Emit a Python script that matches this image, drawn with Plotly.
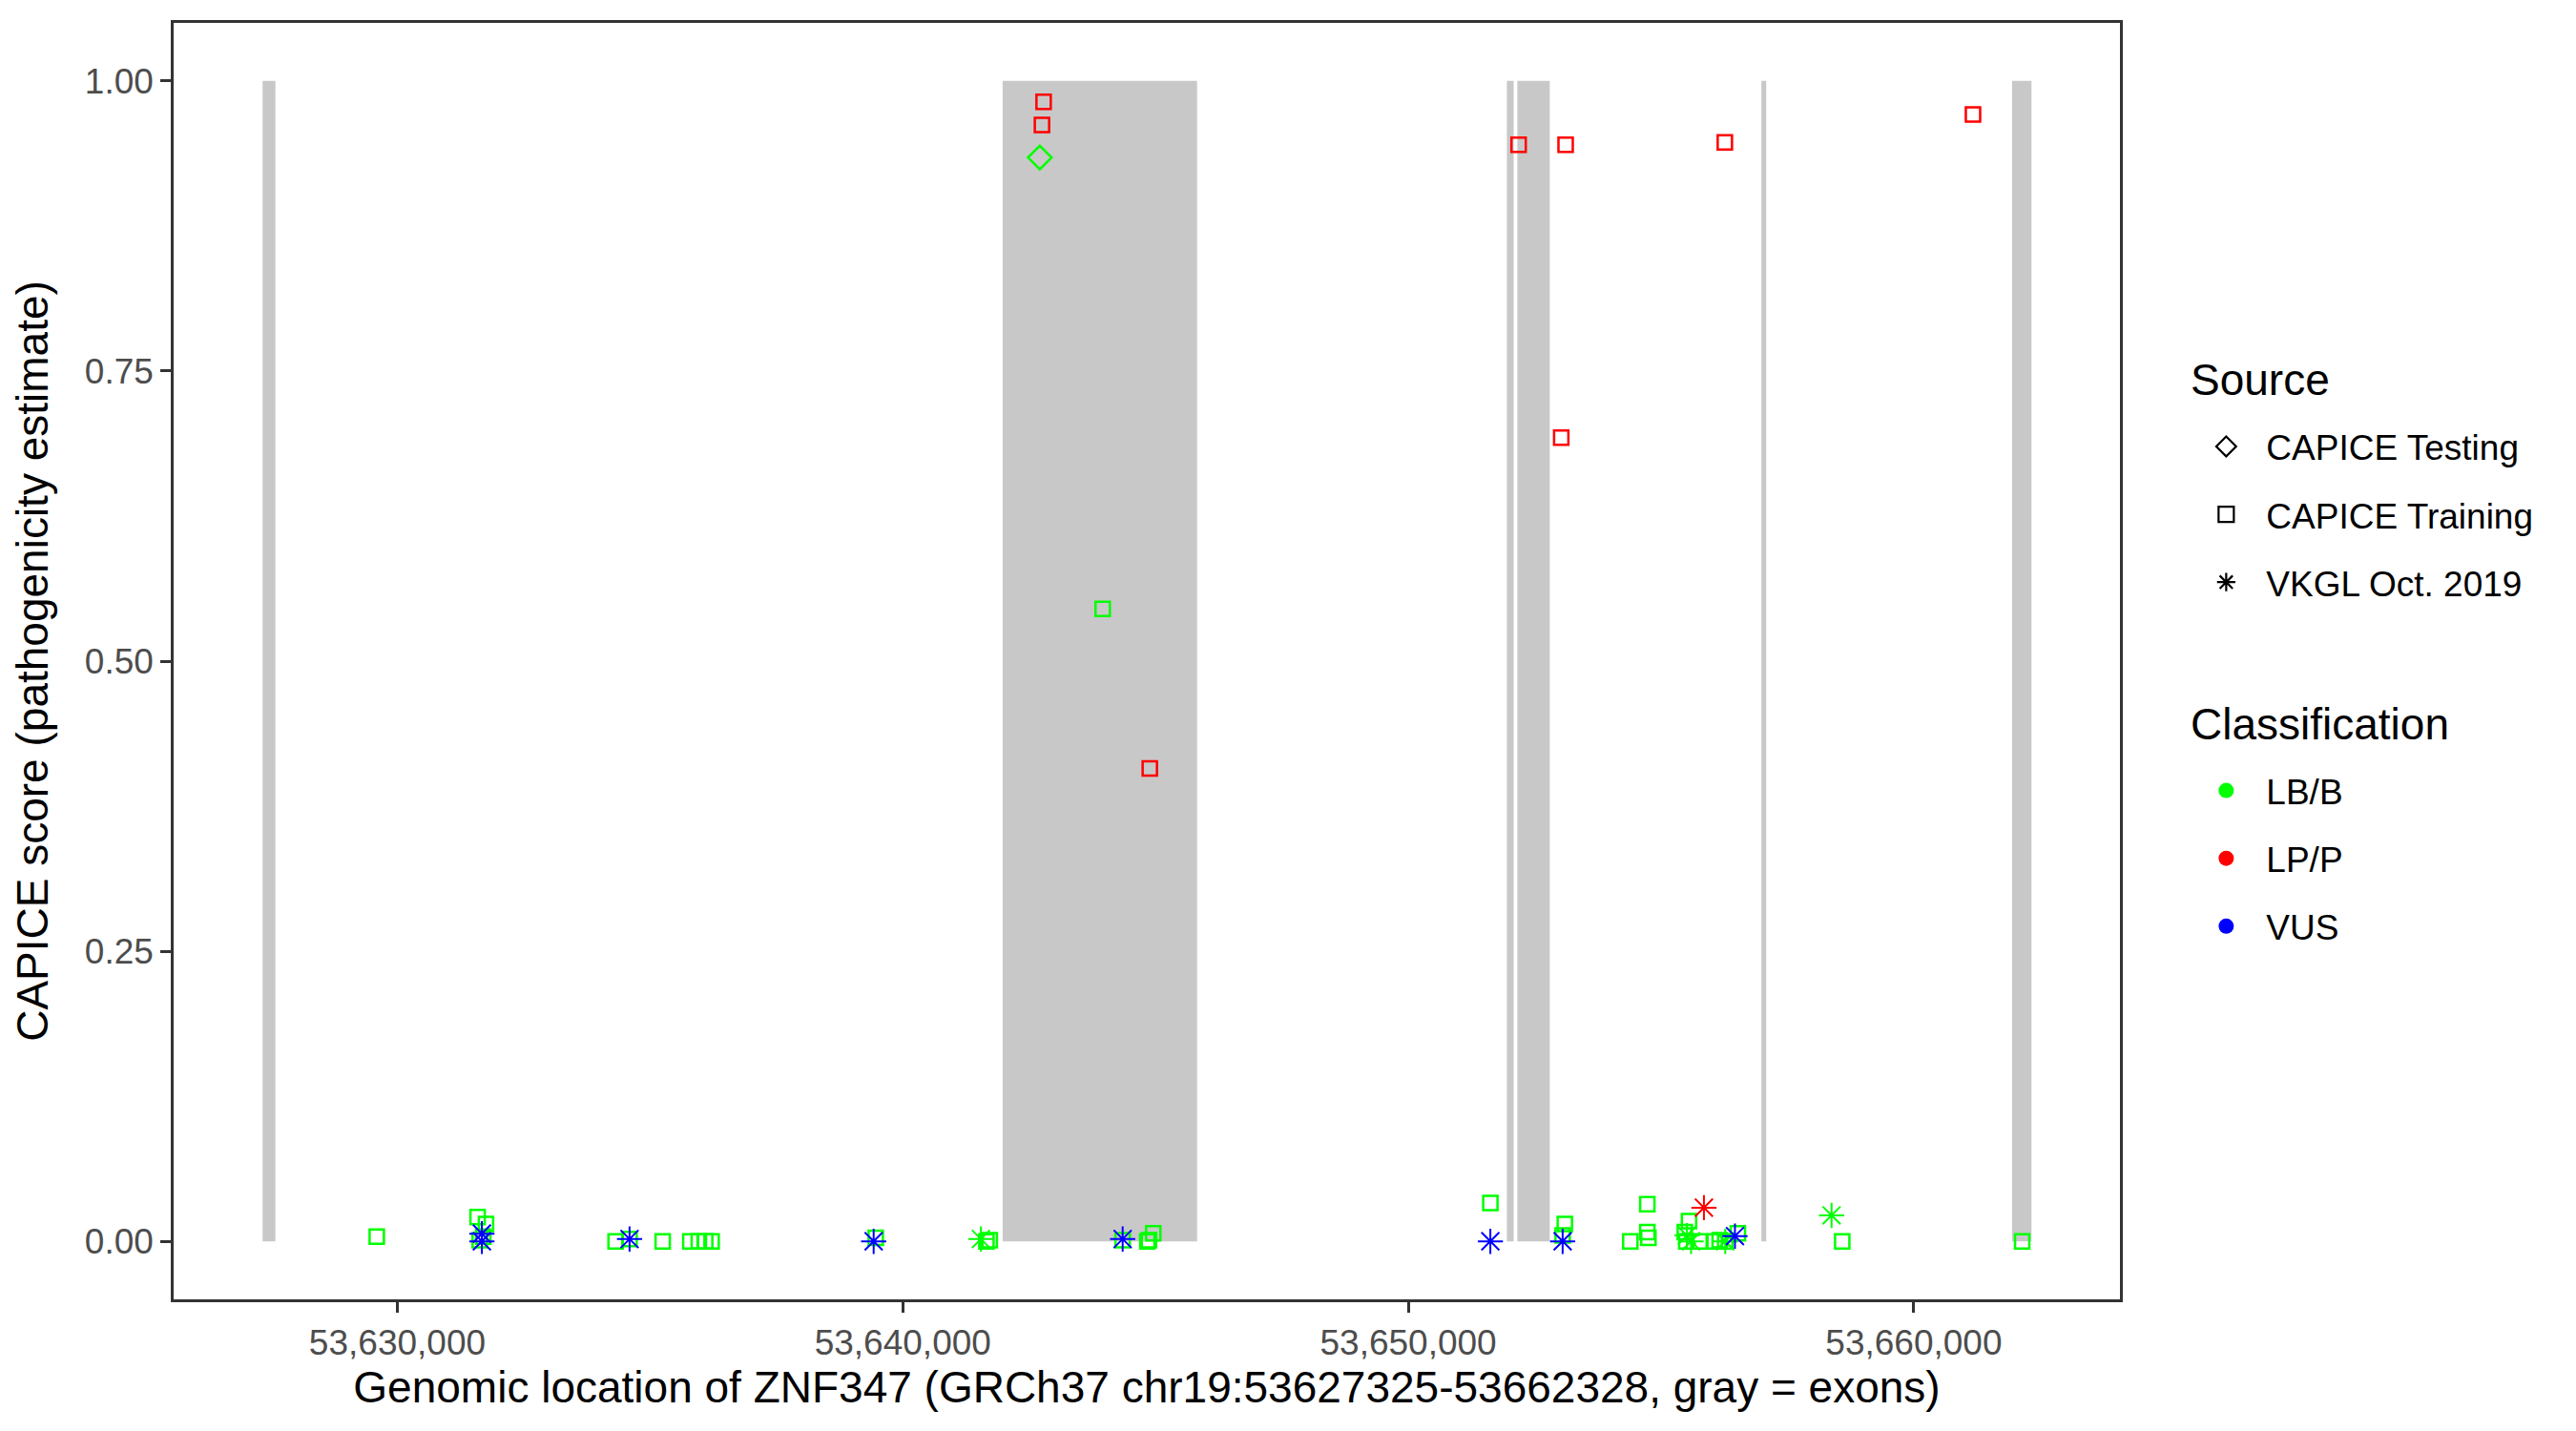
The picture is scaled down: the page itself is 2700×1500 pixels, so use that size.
import plotly.graph_objects as go

# exons of ZNF347 (gray bands, score 0..1)
exon_starts = [53627335, 53641974, 53651950, 53652157, 53656985, 53661944]
exon_ends = [53627588, 53645821, 53652084, 53652798, 53657080, 53662328]

# variants
positions = [
    53629593, 53631588, 53631754, 53631629, 53631700, 53634318, 53634594, 53635250,
    53635797, 53635965, 53636091, 53636217, 53639465, 53641654, 53641720, 53644349,
    53644837, 53644954, 53644870, 53643954, 53651623, 53653096, 53653053, 53654392,
    53654728, 53654728, 53654750, 53655553, 53655470, 53655500, 53655760, 53656060,
    53656160, 53656270, 53656520, 53658584, 53662144,
    53642710,
    53642785, 53642753, 53644886, 53652182, 53653112, 53653025, 53656262, 53661171,
    53641545, 53655511, 53655594, 53656270, 53658373,
    53655848,
    53631673, 53631673, 53634594, 53639423, 53644349, 53651623, 53653053, 53656462,
]
scores = [
    0.004, 0.021, 0.015, 0.001, 0.004, 0.000, 0.002, 0.000,
    0.000, 0.000, 0.000, 0.000, 0.003, 0.000, 0.001, 0.001,
    0.000, 0.007, 0.001, 0.545, 0.033, 0.015, 0.005, 0.000,
    0.032, 0.008, 0.003, 0.0175, 0.008, 0.000, 0.000, 0.000,
    0.001, 0.000, 0.007, 0.000, 0.000,
    0.934,
    0.982, 0.962, 0.4075, 0.945, 0.945, 0.6925, 0.947, 0.971,
    0.002, 0.005, 0.000, 0.000, 0.0224,
    0.029,
    0.0066, 0.000, 0.002, 0.000, 0.002, 0.000, 0.000, 0.0045,
]
sources = (["CAPICE Training"] * 37 + ["CAPICE Testing"] + ["CAPICE Training"] * 8
           + ["VKGL Oct. 2019"] * 5 + ["VKGL Oct. 2019"] + ["VKGL Oct. 2019"] * 8)
classes = (["LB/B"] * 37 + ["LB/B"] + ["LP/P"] * 8
           + ["LB/B"] * 5 + ["LP/P"] + ["VUS"] * 8)

source_levels = ["CAPICE Testing", "CAPICE Training", "VKGL Oct. 2019"]
class_levels = ["LB/B", "LP/P", "VUS"]
x_ticks = [53630000, 53640000, 53650000, 53660000]
y_ticks = [0, 0.25, 0.5, 0.75, 1.0]
gene_start, gene_end = 53627325, 53662328

symbols = {"CAPICE Testing": "diamond-open", "CAPICE Training": "square-open",
           "VKGL Oct. 2019": "asterisk-open"}
sizes = {"CAPICE Testing": 19, "CAPICE Training": 15, "VKGL Oct. 2019": 22}
widths = {"CAPICE Testing": 2.5, "CAPICE Training": 2.5, "VKGL Oct. 2019": 2}
colors = {"LB/B": "#00FF00", "LP/P": "#FF0000", "VUS": "#0000FF"}

FONT = "Liberation Sans, Arial, sans-serif"

fig = go.Figure()

for s, e in zip(exon_starts, exon_ends):
    fig.add_shape(type="rect", xref="x", yref="y", x0=s, x1=e, y0=0, y1=1,
                  fillcolor="#C8C8C8", line_width=0, layer="below")

for src in ["CAPICE Training", "CAPICE Testing", "VKGL Oct. 2019"]:
    for cls in class_levels:
        idx = [i for i in range(len(positions)) if sources[i] == src and classes[i] == cls]
        if not idx:
            continue
        fig.add_trace(go.Scatter(
            x=[positions[i] for i in idx],
            y=[scores[i] for i in idx],
            mode="markers",
            marker=dict(symbol=symbols[src], size=sizes[src], color=colors[cls],
                        line=dict(color=colors[cls], width=widths[src])),
            showlegend=False,
            hoverinfo="x+y",
        ))

# legend entries
for src in source_levels:
    fig.add_trace(go.Scatter(
        x=[None], y=[None], mode="markers", name=src, legend="legend",
        legendgroup=src,
        marker=dict(symbol=symbols[src], size=16, color="black",
                    line=dict(color="black", width=2.2)),
    ))
for cls in class_levels:
    fig.add_trace(go.Scatter(
        x=[None], y=[None], mode="markers", name=cls, legend="legend2",
        legendgroup=cls,
        marker=dict(symbol="circle", size=16, color=colors[cls]),
    ))

span = gene_end - gene_start
axis_common = dict(
    showgrid=False, zeroline=False, showline=True, mirror=True,
    linecolor="#333333", linewidth=2.5,
    ticks="outside", ticklen=11, tickwidth=2.5, tickcolor="#333333",
    tickfont=dict(family=FONT, size=37, color="#4D4D4D"),
)

legend_common = dict(
    font=dict(family=FONT, size=37),
    x=1.034, xanchor="left", yanchor="top",
    traceorder="grouped", tracegroupgap=20, itemwidth=74,
    bgcolor="rgba(0,0,0,0)",
)

fig.update_layout(
    width=2700, height=1500,
    paper_bgcolor="white", plot_bgcolor="white",
    margin=dict(l=182, r=478, t=24, b=138),
    font=dict(family=FONT, color="black"),
    xaxis=dict(
        range=[gene_start - 0.05 * span, gene_end + 0.05 * span],
        tickvals=x_ticks, tickformat=",d",
        title=dict(text="Genomic location of ZNF347 (GRCh37 chr19:53627325-53662328, gray = exons)",
                   font=dict(family=FONT, size=46, color="black"), standoff=7),
        **axis_common,
    ),
    yaxis=dict(
        range=[-0.05, 1.05],
        tickvals=y_ticks, tickformat=".2f",
        title=dict(text="CAPICE score (pathogenicity estimate)",
                   font=dict(family=FONT, size=46, color="black"), standoff=24),
        **axis_common,
    ),
    legend=dict(y=0.691, **legend_common),
    legend2=dict(y=0.4215, **legend_common),
    annotations=[
        dict(text="Source", xref="paper", yref="paper", x=1.0353, y=0.7205,
             xanchor="left", yanchor="middle", showarrow=False,
             font=dict(family=FONT, size=46, color="black")),
        dict(text="Classification", xref="paper", yref="paper", x=1.0353, y=0.4507,
             xanchor="left", yanchor="middle", showarrow=False,
             font=dict(family=FONT, size=46, color="black")),
    ],
)

fig.write_html("out.html", config={"displayModeBar": False},
               post_script="document.body.style.margin='0';")
